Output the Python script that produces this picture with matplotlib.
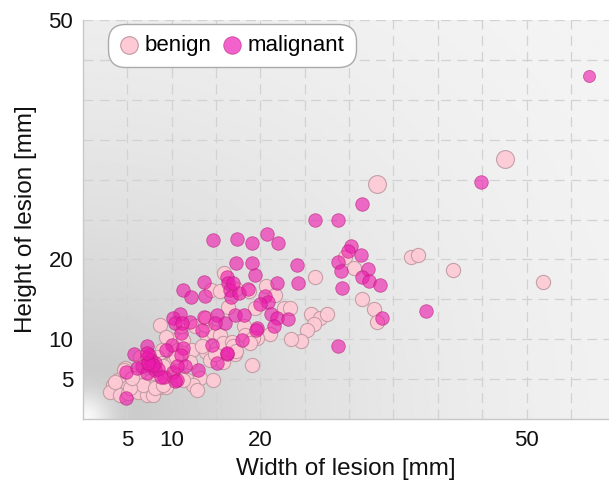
import numpy as np
import matplotlib
matplotlib.use("Agg")
import matplotlib.pyplot as plt

plt.rcParams['font.family'] = ['Liberation Sans', 'DejaVu Sans']

# benign lesions: width, height [mm]
benign_x = [37.0, 37.8, 41.7, 51.9, 29.5, 30.6, 26.2, 31.4, 32.8, 33.2,
            20.6, 21.6, 22.7, 23.3, 25.7, 26.7, 27.5, 26.0, 25.2, 24.6, 23.4, 21.1, 19.6,
            19.4, 15.9, 14.4, 15.5, 17.2, 18.7,
            11.1, 12.6, 13.9, 14.7, 15.4, 18.1, 18.3, 19.2,
            10.4, 11.3, 12.3, 10.4, 12.1, 13.9, 15.1, 15.8, 16.8, 17.1, 18.8,
            14.3, 15.8, 19.0, 11.7, 13.2, 14.7, 12.4, 12.8,
            8.7, 9.4, 8.9, 10.6, 11.2, 8.3, 6.4, 8.9, 9.4, 10.2, 10.9, 4.7, 5.5, 5.9,
            9.8, 10.7, 11.3, 6.6, 7.6, 8.3, 4.0, 3.4, 4.2, 5.1, 6.2, 7.0, 7.9, 8.7, 9.4,
            3.0, 4.2, 5.1, 6.2, 7.2, 7.9, 13.7, 16.3,
            9.0, 10.5, 13.4, 16.9, 14.9, 6.8, 8.1, 9.0, 5.3, 3.6, 4.6, 5.5, 13.9, 17.3]
benign_y = [20.3, 20.5, 18.7, 17.2, 20.3, 18.9, 17.8, 15.1, 13.8, 12.2,
            16.7, 15.5, 13.9, 13.9, 13.2, 12.7, 13.2, 11.9, 11.1, 9.8, 10.0, 10.7, 10.2,
            13.9, 18.3, 16.2, 16.1, 16.3, 16.1,
            11.6, 11.6, 10.7, 10.9, 10.5, 11.7, 10.5, 10.1,
            9.9, 9.9, 8.6, 7.8, 7.2, 8.4, 8.9, 9.5, 9.7, 8.2, 9.5,
            7.4, 7.2, 6.8, 4.9, 5.1, 4.9, 4.3, 3.6,
            11.8, 10.3, 8.6, 8.6, 8.3, 7.8, 7.8, 7.0, 6.8, 7.2, 7.0, 6.4, 5.5, 5.1,
            5.7, 5.5, 4.9, 4.9, 4.7, 4.7, 4.9, 4.3, 3.8, 4.0, 4.3, 3.6, 4.0, 4.0, 4.0,
            3.4, 3.0, 3.2, 3.4, 3.0, 3.0, 11.8, 14.0,
            6.6, 7.8, 9.1, 9.1, 8.1, 4.3, 3.9, 4.3, 3.9, 4.6, 6.2, 5.1, 12.6, 8.5]

# benign lesions drawn with a larger marker
benign_large_x = [47.6, 33.1]
benign_large_y = [32.6, 29.4]

# malignant lesions: width, height [mm]
malignant_x = [44.9, 31.5, 26.1, 28.8, 38.7, 28.7,
               20.8, 22.0, 30.2, 29.9, 31.3, 28.7, 29.1, 32.1, 31.5, 32.2, 33.5, 29.2, 33.7,
               24.1, 24.2, 21.9, 20.5, 20.9, 20.0, 21.2, 21.9, 23.1, 21.5, 19.6,
               14.6, 17.4, 19.1, 17.2, 19.1, 16.2, 19.4, 16.4, 16.6, 13.6, 11.3, 12.2,
               13.8, 16.7, 17.6, 18.6,
               12.1, 13.6, 15.1, 16.0, 17.1, 18.1, 13.4, 14.9, 10.9, 10.2,
               10.0, 11.3, 11.1, 14.5, 16.2, 17.9, 15.1, 13.0, 10.2, 11.5, 10.6,
               10.4, 11.2, 11.0, 7.2, 9.4, 5.7, 7.4, 7.2, 7.7, 8.1, 6.6, 6.1, 7.6, 8.1,
               10.6, 4.8, 9.1, 10.4, 4.9,
               8.5, 8.8, 7.2, 7.9, 7.3, 7.2, 16.2, 16.9, 19.5]
malignant_y = [29.7, 26.9, 24.9, 24.9, 13.5, 9.1,
               23.2, 22.1, 21.7, 21.1, 20.6, 19.7, 18.6, 18.8, 17.8, 17.3, 16.8, 16.4, 12.7,
               19.3, 17.0, 17.0, 15.4, 14.6, 14.4, 13.2, 12.6, 12.5, 11.7, 11.4,
               22.4, 22.5, 22.0, 19.5, 19.6, 17.8, 18.0, 17.0, 16.2, 17.2, 16.2, 15.3,
               15.4, 15.3, 15.8, 16.3,
               12.2, 12.8, 13.0, 12.0, 13.0, 13.0, 11.2, 12.0, 13.2, 12.6,
               9.3, 8.9, 8.0, 9.3, 8.2, 9.9, 7.0, 6.1, 5.9, 6.6, 4.9,
               12.0, 12.0, 10.8, 9.1, 8.6, 8.2, 8.0, 7.6, 7.4, 7.0, 6.6, 6.4, 6.6, 6.1,
               6.6, 5.9, 5.3, 4.7, 2.6,
               6.3, 5.3, 5.8, 6.8, 7.0, 8.3, 8.3, 17.0, 11.2]

# malignant lesion drawn with a smaller marker
malignant_small_x = [57.0]
malignant_small_y = [43.0]

tick_vals = [5, 10, 20, 50]

fig = plt.figure(figsize=(6.09, 4.87), dpi=100)
ax = fig.add_axes([83 / 609, 1 - 419 / 487, 1 - 83 / 609, (419 - 20) / 487])
xmax, ymax = 59.3, 50

# grey background with a light spot in the lower left corner
gx = np.linspace(0, 526, 400)
gy = np.linspace(0, 399, 300)
X, Y = np.meshgrid(gx, gy)
d = np.hypot(X, Y * 1.05)
g = 0.975 - 0.22 * np.exp(-d / 270) + 0.22 * np.exp(-(d / 28) ** 2)
ax.imshow(g, origin='lower', extent=[0, xmax, 0, ymax], aspect='auto',
          cmap='gray', vmin=0, vmax=1, zorder=0, interpolation='bilinear')

b_face = '#ffcad5'
b_edge = '#bf99a2'
m_face = (0.93, 0.10, 0.68, 0.62)
m_edge = (0.70, 0.10, 0.45, 0.6)

ax.scatter(benign_x, benign_y, s=105, c=b_face, edgecolors=b_edge, linewidths=0.8,
           alpha=0.9, zorder=3)
ax.scatter(benign_large_x, benign_large_y, s=165, c=b_face, edgecolors=b_edge,
           linewidths=0.8, alpha=0.9, zorder=3)
ax.scatter(malignant_x, malignant_y, s=95, color=m_face, edgecolors=m_edge,
           linewidths=0.6, zorder=4)
ax.scatter(malignant_small_x, malignant_small_y, s=75, color=m_face, edgecolors=m_edge,
           linewidths=0.6, zorder=4)

ax.set_xlim(0, xmax)
ax.set_ylim(0, ymax)
ax.set_xticks(np.arange(5, 60, 5), minor=True)
ax.set_yticks(np.arange(5, 50, 5), minor=True)
ax.set_xticks(tick_vals)
ax.set_yticks(tick_vals)
ax.set_xticklabels([str(v) for v in tick_vals])
ax.set_yticklabels([str(v) for v in tick_vals])
ax.grid(True, which='both', color='#d2d2d2', linestyle=(0, (8, 5)), linewidth=0.9, zorder=1)
ax.set_axisbelow(True)
ax.tick_params(which='both', length=0, labelsize=16, colors='#111111')
ax.tick_params(axis='x', pad=8)
ax.tick_params(axis='y', pad=7)

for side in ['top', 'right']:
    ax.spines[side].set_visible(False)
for side in ['left', 'bottom']:
    ax.spines[side].set_color('#c8c8c8')
    ax.spines[side].set_linewidth(1.0)

ax.set_xlabel('Width of lesion [mm]', fontsize=17.5, labelpad=5, color='#111111')
ax.set_ylabel('Height of lesion [mm]', fontsize=17.5, labelpad=8, color='#111111')

hb = ax.scatter([], [], s=160, c=b_face, edgecolors=b_edge, linewidths=0.8)
hm = ax.scatter([], [], s=160, color=(0.95, 0.38, 0.80), edgecolors=m_edge, linewidths=0.6)
leg = ax.legend([hb, hm], ['benign', 'malignant'], ncol=2, loc='upper left',
                bbox_to_anchor=(29 / 526, 1 - 8 / 399), borderaxespad=0,
                fontsize=16, frameon=True, fancybox=True, handletextpad=0.25,
                columnspacing=0.5, borderpad=0.3, handlelength=0.9)
leg.get_frame().set_edgecolor('#aaaaaa')
leg.get_frame().set_facecolor('white')
leg.get_frame().set_alpha(1)
leg.get_frame().set_boxstyle('round,pad=0.2,rounding_size=0.8')

fig.savefig('out.png', dpi=100)
